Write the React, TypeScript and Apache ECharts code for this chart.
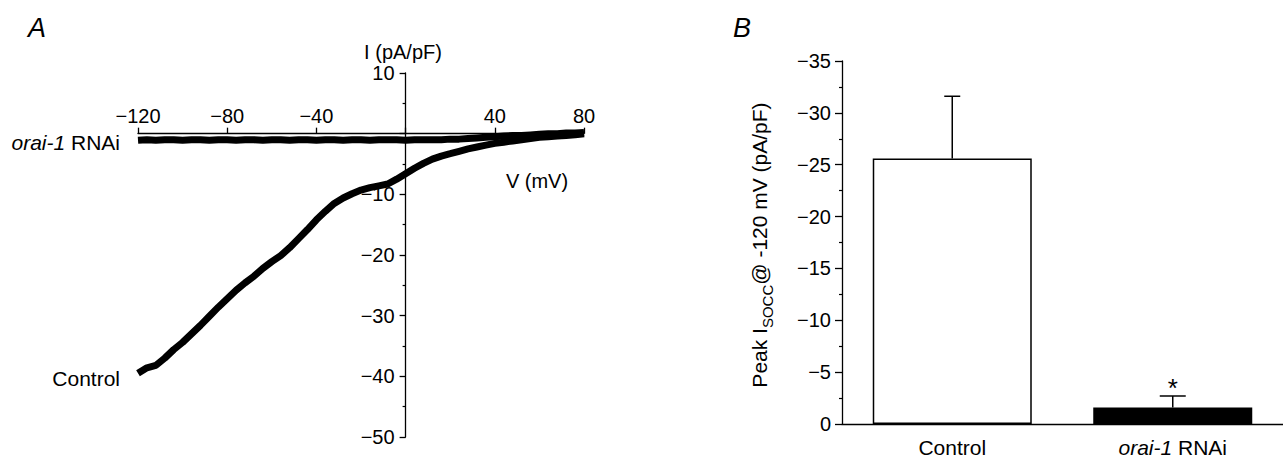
import React, { useEffect, useRef } from "react";
import * as echarts from "echarts";

// Panel A: I–V relationship (voltage in mV, current in pA/pF)
const voltages = [
  -120, -116, -112, -108, -104, -100, -96, -92, -88, -84, -80, -76, -72, -68, -64, -60, -56, -52, -48, -44,
  -40, -36, -32, -28, -24, -20, -16, -12, -8, -4, 0, 4, 8, 12, 16, 20, 24, 28, 32, 36, 40, 44, 48, 52, 56,
  60, 64, 68, 72, 76, 80,
];
const controlCurrent = [
  -39.5, -38.6, -38.2, -37.0, -35.6, -34.4, -33.0, -31.6, -30.1, -28.6, -27.2, -25.8, -24.6, -23.5, -22.2,
  -21.1, -20.1, -18.8, -17.3, -15.8, -14.2, -12.8, -11.5, -10.6, -9.9, -9.3, -8.9, -8.6, -8.3, -7.5, -6.6,
  -5.7, -4.9, -4.2, -3.7, -3.3, -2.9, -2.5, -2.2, -1.9, -1.6, -1.4, -1.2, -1.0, -0.8, -0.6, -0.5, -0.4,
  -0.3, -0.2, 0.0,
];
const rnaiCurrent = [
  -1.1, -1.0, -1.1, -1.0, -1.0, -1.1, -1.0, -1.0, -1.1, -1.0, -1.0, -1.1, -1.0, -1.0, -1.1, -1.0, -1.0,
  -1.1, -1.0, -1.0, -1.1, -1.0, -1.0, -1.1, -1.0, -1.0, -1.1, -1.0, -1.0, -1.0, -1.1, -1.0, -1.0, -1.0,
  -1.0, -0.9, -0.9, -0.8, -0.7, -0.6, -0.5, -0.4, -0.3, -0.3, -0.2, -0.1, 0.0, 0.0, 0.1, 0.1, 0.2,
];
const vRange = [-120, 80];
const iRange = [-50, 10];

// Panel B: peak I_SOCC at -120 mV
const categories = ["Control", "orai-1 RNAi"];
const peakMeans = [-25.6, -1.6];
const peakErrTop = [-31.6, -2.7];
const significance = ["", "*"];

const FONT = "'Liberation Sans', Arial, Helvetica, sans-serif";
const minus = (v: number) => String(v).replace("-", "\u2212");

export default function App() {
  const ref = useRef<HTMLDivElement>(null);
  useEffect(() => {
    if (!ref.current) return;
    const chart = echarts.init(ref.current, null, { renderer: "svg" });
    const axisLine = { lineStyle: { color: "#000", width: 1.3 } };
    const tickStyle = { lineStyle: { color: "#000", width: 1.3 } };
    const label = { color: "#000", fontSize: 20, fontFamily: FONT };
    const capHalf = [8, 13];

    const gA = { left: 138, top: 73, width: 446, height: 364 };
    const gB = { left: 842, top: 61, width: 450, height: 366 };
    // move the axes of panel A onto the zero lines (axes cross at the origin)
    const yAxisOffsetA = -gA.width * ((0 - vRange[0]) / (vRange[1] - vRange[0]));
    const xAxisOffsetA = -gA.height * ((iRange[1] - 0) / (iRange[1] - iRange[0]));

    chart.setOption({
      animation: false,
      backgroundColor: "#fff",
      textStyle: { fontFamily: FONT },
      grid: [gA, gB],
      xAxis: [
        {
          gridIndex: 0,
          type: "value",
          min: vRange[0],
          max: vRange[1],
          interval: 40,
          position: "top",
          offset: xAxisOffsetA,
          axisLine: { ...axisLine, onZero: false },
          axisTick: { ...tickStyle, length: 6 },
          axisLabel: { ...label, margin: 8, formatter: (v: number) => (v === 0 ? "" : minus(v)) },
          splitLine: { show: false },
        },
        {
          gridIndex: 1,
          type: "category",
          data: categories,
          axisLine: { ...axisLine, onZero: false },
          axisTick: { ...tickStyle, inside: true, length: 5, alignWithLabel: false },
          axisLabel: {
            ...label,
            fontSize: 21,
            margin: 13,
            formatter: (v: string) => (v === "orai-1 RNAi" ? "{i|orai-1} RNAi" : v),
            rich: { i: { ...label, fontSize: 21, fontStyle: "italic" } },
          },
          splitLine: { show: false },
        },
      ],
      yAxis: [
        {
          gridIndex: 0,
          type: "value",
          min: iRange[0],
          max: iRange[1],
          interval: 10,
          position: "left",
          offset: yAxisOffsetA,
          axisLine: { ...axisLine, show: true, onZero: false },
          axisTick: { ...tickStyle, show: true, length: 6 },
          minorTick: { show: true, splitNumber: 2, length: 3, lineStyle: { color: "#000", width: 1.2 } },
          axisLabel: { ...label, margin: 11, formatter: (v: number) => (v === 0 ? "" : minus(v)) },
          splitLine: { show: false },
        },
        {
          gridIndex: 1,
          type: "value",
          min: -35,
          max: 0,
          interval: 5,
          inverse: true,
          axisLine: { ...axisLine, show: true, onZero: false },
          axisTick: { ...tickStyle, show: true, length: 7 },
          minorTick: { show: true, splitNumber: 2, length: 3, lineStyle: { color: "#000", width: 1.2 } },
          axisLabel: { ...label, margin: 11, formatter: (v: number) => minus(v) },
          splitLine: { show: false },
        },
      ],
      series: [
        {
          type: "line",
          xAxisIndex: 0,
          yAxisIndex: 0,
          data: voltages.map((v, i) => [v, controlCurrent[i]]),
          showSymbol: false,
          lineStyle: { color: "#000", width: 7 },
          z: 5,
        },
        {
          type: "line",
          xAxisIndex: 0,
          yAxisIndex: 0,
          data: voltages.map((v, i) => [v, rnaiCurrent[i]]),
          showSymbol: false,
          lineStyle: { color: "#000", width: 7 },
          z: 5,
        },
        {
          type: "bar",
          xAxisIndex: 1,
          yAxisIndex: 1,
          barWidth: 159,
          data: peakMeans.map((m, i) => ({
            value: m,
            itemStyle:
              i === 0
                ? { color: "#fff", borderColor: "#000", borderWidth: 1.5 }
                : { color: "#000", borderColor: "#000", borderWidth: 1.5 },
          })),
          z: 2,
        },
        {
          type: "custom",
          xAxisIndex: 1,
          yAxisIndex: 1,
          data: peakMeans.map((m, i) => [i, m, peakErrTop[i]]),
          renderItem: (params: any, api: any) => {
            const i = params.dataIndex;
            const p0 = api.coord([api.value(0), api.value(1)]);
            const p1 = api.coord([api.value(0), api.value(2)]);
            const ls = { stroke: "#000", lineWidth: 1.5 };
            const children: any[] = [
              { type: "line", shape: { x1: p0[0], y1: p0[1], x2: p1[0], y2: p1[1] }, style: ls },
              {
                type: "line",
                shape: { x1: p1[0] - capHalf[i], y1: p1[1], x2: p1[0] + capHalf[i], y2: p1[1] },
                style: ls,
              },
            ];
            if (significance[i]) {
              children.push({
                type: "text",
                x: p1[0],
                y: p1[1] - 8,
                style: {
                  text: significance[i],
                  fontSize: 26,
                  fontFamily: FONT,
                  fill: "#000",
                  align: "center",
                  verticalAlign: "middle",
                },
              });
            }
            return { type: "group", children };
          },
          z: 4,
        },
      ],
      graphic: [
        {
          type: "text",
          left: 28,
          top: 14,
          style: { text: "A", fontSize: 27, fontStyle: "italic", fontFamily: FONT, fill: "#000" },
        },
        {
          type: "text",
          left: 733,
          top: 14,
          style: { text: "B", fontSize: 27, fontStyle: "italic", fontFamily: FONT, fill: "#000" },
        },
        {
          type: "text",
          x: 403,
          y: 52,
          style: {
            text: "I (pA/pF)",
            fontSize: 20,
            fontFamily: FONT,
            fill: "#000",
            align: "center",
            verticalAlign: "middle",
          },
        },
        {
          type: "text",
          x: 537,
          y: 181,
          style: {
            text: "V (mV)",
            fontSize: 20,
            fontFamily: FONT,
            fill: "#000",
            align: "center",
            verticalAlign: "middle",
          },
        },
        {
          type: "text",
          x: 120,
          y: 142,
          style: {
            text: "{i|orai-1} RNAi",
            rich: { i: { fontStyle: "italic", fontSize: 21, fontFamily: FONT, fill: "#000" } },
            fontSize: 21,
            fontFamily: FONT,
            fill: "#000",
            align: "right",
            verticalAlign: "middle",
          },
        },
        {
          type: "text",
          x: 120,
          y: 378,
          style: {
            text: "Control",
            fontSize: 21,
            fontFamily: FONT,
            fill: "#000",
            align: "right",
            verticalAlign: "middle",
          },
        },
        {
          type: "text",
          x: 762,
          y: 245,
          rotation: Math.PI / 2,
          style: {
            text: "{m|Peak I}{s|SOCC}{m|@ -120 mV (pA/pF)}",
            rich: {
              m: { fontSize: 21, fontFamily: FONT, fill: "#000", lineHeight: 26, verticalAlign: "top" },
              s: { fontSize: 15, fontFamily: FONT, fill: "#000", lineHeight: 16, verticalAlign: "bottom" },
            },
            align: "center",
            verticalAlign: "middle",
          },
        },
      ],
    });
    return () => chart.dispose();
  }, []);
  return (
    <div
      ref={ref}
      style={{ position: "fixed", left: 0, top: 0, width: 1283, height: 458, background: "#fff" }}
    />
  );
}
